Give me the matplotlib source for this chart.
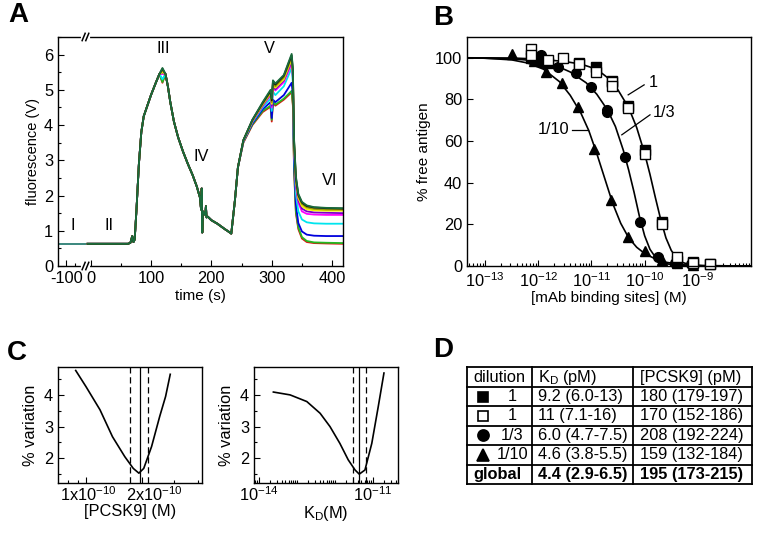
import numpy as np
import matplotlib
matplotlib.use("Agg")
import matplotlib.pyplot as plt
from matplotlib import ticker
import matplotlib.transforms as mtransforms

plt.rcParams["font.family"] = ["Liberation Sans", "DejaVu Sans"]
plt.rcParams["mathtext.fontset"] = "custom"
plt.rcParams["mathtext.rm"] = "Liberation Sans"
plt.rcParams["mathtext.it"] = "Liberation Sans:italic"
plt.rcParams["mathtext.default"] = "regular"
plt.rcParams["xtick.direction"] = "in"
plt.rcParams["ytick.direction"] = "in"
plt.rcParams["axes.linewidth"] = 1.0

FS = 11.8

# ---------------- panel A data (time axis is broken before 0) ----------------
pre_x = [-54, -9]
pre_y = [0.63, 0.63]

early_t = [-5, 62, 66, 69, 71, 73, 76, 80, 84, 88, 93, 100, 108, 114, 119, 124, 128, 132, 138, 145,
           153, 161, 169, 176, 181, 183, 184, 185, 186, 188, 190, 191, 192, 194, 200, 210, 222, 229]
early_v = [0.63, 0.63, 0.66, 0.85, 0.68, 0.75, 1.6, 2.9, 3.8, 4.25, 4.5, 4.85, 5.2, 5.45, 5.6, 5.45, 5.1, 4.65, 4.1, 3.65,
           3.25, 2.9, 2.58, 2.25, 1.95, 1.6, 2.2, 0.95, 1.55, 1.5, 1.45, 1.7, 1.38, 1.4, 1.3, 1.2, 1.05, 0.97]

late_t = [233, 239, 244, 253, 268, 285, 298, 300, 302, 306, 320, 333, 335, 337, 340, 344, 350, 358, 370, 390, 418]

trace_colors = ["#dd1111", "#22bb22", "#0000dd", "#00e5ee", "#ff00ff", "#7a00c8",
                "#f2f200", "#9a9a00", "#111111", "#1a6b3c"]
peak_iii = [5.2, 5.22, 5.5, 5.3, 5.45, 5.48, 5.5, 5.55, 5.6, 5.62]
late_v = [
    [0.92, 1.86, 2.8, 3.50, 4.00, 4.37, 4.52, 4.10, 4.65, 4.55, 4.72, 4.93, 4.55, 2.70, 1.50, 1.05, 0.78, 0.68, 0.65, 0.64, 0.63],
    [0.92, 1.86, 2.8, 3.52, 4.02, 4.40, 4.55, 4.15, 4.70, 4.58, 4.75, 4.97, 4.60, 2.75, 1.55, 1.10, 0.82, 0.71, 0.67, 0.66, 0.65],
    [0.92, 1.86, 2.8, 3.53, 4.05, 4.45, 4.65, 4.20, 4.72, 4.65, 4.85, 5.20, 4.85, 2.95, 1.75, 1.22, 0.98, 0.89, 0.86, 0.85, 0.85],
    [0.92, 1.86, 2.8, 3.54, 4.08, 4.50, 4.75, 4.40, 4.95, 4.85, 5.10, 5.62, 5.20, 3.20, 2.05, 1.55, 1.32, 1.24, 1.21, 1.20, 1.20],
    [0.92, 1.86, 2.8, 3.55, 4.10, 4.54, 4.85, 4.50, 5.08, 4.98, 5.22, 5.75, 5.35, 3.35, 2.25, 1.80, 1.55, 1.48, 1.46, 1.45, 1.45],
    [0.92, 1.86, 2.8, 3.56, 4.11, 4.56, 4.88, 4.55, 5.12, 5.02, 5.27, 5.82, 5.40, 3.40, 2.33, 1.87, 1.63, 1.55, 1.52, 1.51, 1.50],
    [0.92, 1.86, 2.8, 3.56, 4.12, 4.58, 4.90, 4.60, 5.15, 5.06, 5.30, 5.87, 5.45, 3.45, 2.40, 1.93, 1.70, 1.61, 1.58, 1.57, 1.57],
    [0.92, 1.86, 2.8, 3.57, 4.13, 4.60, 4.93, 4.65, 5.20, 5.10, 5.35, 5.92, 5.50, 3.50, 2.45, 1.98, 1.76, 1.66, 1.62, 1.60, 1.60],
    [0.92, 1.86, 2.8, 3.57, 4.15, 4.63, 4.97, 4.70, 5.24, 5.15, 5.40, 5.98, 5.55, 3.55, 2.50, 2.02, 1.80, 1.70, 1.66, 1.64, 1.63],
    [0.92, 1.86, 2.8, 3.57, 4.15, 4.65, 5.00, 4.75, 5.27, 5.18, 5.42, 6.02, 5.60, 3.60, 2.55, 2.05, 1.82, 1.72, 1.67, 1.65, 1.64],
]
phase_labels = ["I", "II", "III", "IV", "V", "VI"]
phase_x = [-29, 30, 120, 183, 296, 396]
phase_y = [0.95, 0.95, 5.95, 2.9, 5.95, 2.2]
a_tick_pos = [-40, 0, 100, 200, 300, 400]
a_tick_lab = ["-100", "0", "100", "200", "300", "400"]

# ---------------- panel B data (log10 of mAb binding sites, % free antigen) ----------------
sqf_x = [-12.14, -11.81, -11.23, -10.92, -10.62, -10.31, -10.0, -9.68, -9.40, -9.09, -8.77]
sqf_y = [100, 97.5, 97.5, 95.5, 89, 77, 55.5, 21, 2.5, 1.8, 1.0]
sqo_x = [-12.14, -12.14, -11.81, -11.54, -11.23, -10.92, -10.62, -10.62, -10.31, -10.0, -9.68, -9.40, -9.09, -8.77]
sqo_y = [104, 101.5, 99, 100, 97, 93, 88.6, 86.5, 76, 54, 20, 4.5, 1.5, 0.8]
circ_x = [-11.94, -11.94, -11.62, -11.29, -11.0, -10.70, -10.70, -10.37, -10.09, -9.75, -9.43, -9.12]
circ_y = [101.4, 98.2, 95.8, 92.6, 86.2, 75, 74, 52.2, 21.3, 4.5, 1.5, 0.8]
tri_x = [-12.5, -12.08, -11.86, -11.56, -11.25, -10.95, -10.64, -10.32, -10.0, -9.68, -9.4, -9.1]
tri_y = [102, 98.7, 93.4, 88.1, 76.3, 56.2, 31.7, 13.8, 7.0, 3.0, 1.5, 0.5]

fit1_x = [-13.34, -12.5, -12.0, -11.5, -11.2, -10.9, -10.7, -10.5, -10.3, -10.15, -10.0, -9.9, -9.8,
          -9.7, -9.6, -9.5, -9.4, -9.3, -9.15, -8.9, -8.0]
fit1_y = [100, 99.9, 99.4, 98.2, 97, 94.5, 90.5, 84.5, 76, 66.5, 54, 44, 33, 22.5, 13.5, 7.5, 3.8, 1.8, 0.6, 0.1, 0]
fit3_x = [-13.34, -12.5, -12.0, -11.7, -11.4, -11.1, -10.9, -10.7, -10.55, -10.4, -10.3, -10.2, -10.1,
          -10.0, -9.9, -9.8, -9.7, -9.55, -9.3, -8.0]
fit3_y = [100, 99.5, 98.5, 96.6, 93.2, 88, 82.5, 75, 67, 55.5, 46, 35.5, 24, 14.5, 8, 4.3, 2.3, 0.9, 0.2, 0]
fit10_x = [-13.34, -13.0, -12.5, -12.2, -11.9, -11.6, -11.4, -11.2, -11.05, -10.9, -10.75, -10.6, -10.45,
           -10.3, -10.15, -10.0, -9.8, -9.6, -9.3, -9.0, -8.0]
fit10_y = [100, 99.8, 99, 97.5, 94.5, 88.5, 82, 73.5, 65, 54, 42, 30, 20.5, 13.5, 9, 6, 3.4, 1.8, 0.6, 0.2, 0]

# ---------------- panel C data ----------------
pcsk_x = [0.88, 1.0, 1.19, 1.39, 1.62, 1.80, 1.93, 2.05, 2.26, 2.5, 2.69, 2.85]   # x 1e-10 M
pcsk_y = [4.77, 4.26, 3.53, 2.68, 2.05, 1.68, 1.53, 1.68, 2.37, 3.32, 3.95, 4.65]
kd_x = [-13.62, -13.18, -12.74, -12.39, -12.13, -11.87, -11.65, -11.47, -11.36, -11.21, -11.03, -10.86, -10.71]
kd_y = [4.09, 4.0, 3.79, 3.42, 3.0, 2.47, 1.95, 1.63, 1.5, 1.63, 2.47, 3.63, 4.69]

# ---------------- panel D table ----------------
dilutions = ["1", "1", "1/3", "1/10"]
kd_cells = ["9.2 (6.0-13)", "11 (7.1-16)", "6.0 (4.7-7.5)", "4.6 (3.8-5.5)"]
pcsk_cells = ["180 (179-197)", "170 (152-186)", "208 (192-224)", "159 (132-184)"]
global_kd = [4.4, 2.9, 6.5]        # pM
global_pcsk = [195, 173, 215]      # pM

fig = plt.figure(figsize=(7.6, 5.39), dpi=100)


def style(ax):
    ax.tick_params(which="both", top=False, right=False, labelsize=FS, width=0.8)
    ax.tick_params(which="major", length=4)
    ax.tick_params(which="minor", length=2)


# ---- A ----
axA = fig.add_axes([0.0763, 0.5065, 0.375, 0.4249])
for col, pk, lv in zip(trace_colors, peak_iii, late_v):
    ev = list(early_v)
    ev[early_t.index(119)] = pk
    axA.plot(pre_x, pre_y, color="#3f8a80", lw=1.4)
    axA.plot(early_t + late_t, ev + lv, color=col, lw=1.3)
axA.set_xlim(-54, 418)
axA.set_ylim(0, 6.5)
axA.xaxis.set_major_locator(ticker.FixedLocator(a_tick_pos))
axA.xaxis.set_major_formatter(ticker.FixedFormatter(a_tick_lab))
axA.xaxis.set_minor_locator(ticker.FixedLocator([-26, 50, 150, 250, 350]))
axA.yaxis.set_major_locator(ticker.MultipleLocator(1))
axA.yaxis.set_minor_locator(ticker.MultipleLocator(0.5))
style(axA)
axA.set_xlabel("time (s)", fontsize=11, labelpad=2)
axA.set_ylabel("fluorescence (V)", fontsize=10.5, labelpad=3)
for lab, x, y in zip(phase_labels, phase_x, phase_y):
    axA.text(x, y, lab, fontsize=FS, ha="center", va="bottom")
tr = mtransforms.blended_transform_factory(axA.transData, axA.transAxes)
brk = -8
for yb in (0, 1):
    axA.plot([brk - 4, brk + 3], [yb, yb], color="white", lw=3, transform=tr, clip_on=False, zorder=5)
    for dx in (-3.5, 2.5):
        axA.plot([brk + dx - 2.5, brk + dx + 2.5], [yb - 0.016, yb + 0.016], color="black", lw=1.1,
                 transform=tr, clip_on=False, zorder=6)

# ---- B ----
axB = fig.add_axes([0.6145, 0.5065, 0.3737, 0.4249])
for fx, fy in ((fit1_x, fit1_y), (fit3_x, fit3_y), (fit10_x, fit10_y)):
    axB.plot(10.0 ** np.array(fx), fy, color="black", lw=1.2)
axB.plot(10.0 ** np.array(tri_x), tri_y, "^", color="black", ms=7, clip_on=False)
axB.plot(10.0 ** np.array(circ_x), circ_y, "o", color="black", ms=7, clip_on=False)
axB.plot(10.0 ** np.array(sqf_x), sqf_y, "s", color="black", ms=6.5, clip_on=False)
axB.plot(10.0 ** np.array(sqo_x), sqo_y, "s", mfc="white", mec="black", mew=1.0, ms=6.5, clip_on=False)
axB.set_xscale("log")
axB.set_xlim(10 ** -13.34, 10 ** -8.0)
axB.set_ylim(0, 110)
axB.xaxis.set_major_locator(ticker.FixedLocator([1e-13, 1e-12, 1e-11, 1e-10, 1e-9]))
axB.xaxis.set_major_formatter(ticker.LogFormatterMathtext())
axB.xaxis.set_minor_locator(ticker.LogLocator(base=10, subs=np.arange(2, 10), numticks=30))
axB.xaxis.set_minor_formatter(ticker.NullFormatter())
axB.yaxis.set_major_locator(ticker.MultipleLocator(20))
style(axB)
axB.set_xlabel("[mAb binding sites] (M)", fontsize=11, labelpad=1)
axB.set_ylabel("% free antigen", fontsize=11, labelpad=3)
axB.plot([10 ** -10.31, 10 ** -10.01], [82.2, 87], color="black", lw=0.9)
axB.text(10 ** -9.93, 88, "1", fontsize=FS, va="center", ha="left")
axB.plot([10 ** -10.43, 10 ** -9.90], [63, 72.6], color="black", lw=0.9)
axB.text(10 ** -9.85, 73.5, "1/3", fontsize=FS, va="center", ha="left")
axB.plot([10 ** -11.37, 10 ** -11.07], [65.4, 65.4], color="black", lw=0.9)
axB.text(10 ** -11.42, 65.4, "1/10", fontsize=FS, va="center", ha="right")

# ---- C ----
axC1 = fig.add_axes([0.0763, 0.1039, 0.1895, 0.2152])
axC1.plot(np.array(pcsk_x) * 1e-10, pcsk_y, color="black", lw=1.2)
axC1.axvline(global_pcsk[0] * 1e-12, color="black", lw=0.9)
for v in global_pcsk[1:]:
    axC1.axvline(v * 1e-12, color="black", lw=0.9, ls=(0, (5, 3)))
axC1.set_xscale("log")
axC1.set_xlim(0.706e-10, 4.23e-10)
axC1.set_ylim(1.22, 4.88)
axC1.xaxis.set_major_locator(ticker.FixedLocator([1e-10, 2e-10]))
axC1.xaxis.set_major_formatter(ticker.FixedFormatter(["1x10$^{-10}$", "2x10$^{-10}$"]))
axC1.xaxis.set_minor_locator(ticker.FixedLocator([0.8e-10, 0.9e-10, 3e-10, 4e-10]))
axC1.xaxis.set_minor_formatter(ticker.NullFormatter())
axC1.yaxis.set_major_locator(ticker.MultipleLocator(1))
axC1.yaxis.set_minor_locator(ticker.MultipleLocator(0.5))
style(axC1)
axC1.tick_params(axis="x", pad=2)
axC1.set_xlabel("[PCSK9] (M)", fontsize=FS, labelpad=0)
axC1.set_ylabel("% variation", fontsize=FS, labelpad=4)
fig.canvas.draw()
for lbl, shift in zip(axC1.get_xticklabels(), (2, 13)):
    lbl.set_transform(lbl.get_transform() + mtransforms.ScaledTranslation(shift / 100, 0, fig.dpi_scale_trans))

axC2 = fig.add_axes([0.3342, 0.1039, 0.1895, 0.2152])
axC2.plot(10.0 ** np.array(kd_x), kd_y, color="black", lw=1.2)
axC2.axvline(global_kd[0] * 1e-12, color="black", lw=0.9)
for v in global_kd[1:]:
    axC2.axvline(v * 1e-12, color="black", lw=0.9, ls=(0, (5, 3)))
axC2.set_xscale("log")
axC2.set_xlim(10 ** -14.13, 10 ** -10.34)
axC2.set_ylim(1.22, 4.88)
axC2.xaxis.set_major_locator(ticker.FixedLocator([1e-14, 1e-11]))
axC2.xaxis.set_major_formatter(ticker.LogFormatterMathtext())
axC2.xaxis.set_minor_locator(ticker.LogLocator(base=10, subs=np.arange(1, 10), numticks=30))
axC2.xaxis.set_minor_formatter(ticker.NullFormatter())
axC2.yaxis.set_major_locator(ticker.MultipleLocator(1))
axC2.yaxis.set_minor_locator(ticker.MultipleLocator(0.5))
style(axC2)
axC2.tick_params(axis="x", pad=2)
axC2.set_xlabel("K$_D$(M)", fontsize=FS, labelpad=0)
axC2.set_ylabel("% variation", fontsize=FS, labelpad=4)

# ---- D table ----
axD = fig.add_axes([0.614, 0.102, 0.375, 0.2165])
axD.set_xlim(0, 1)
axD.set_ylim(6, 0)
axD.axis("off")
col_edges = [0, 0.228, 0.582, 1]
for xe in col_edges:
    axD.plot([xe, xe], [0, 6], color="black", lw=1.3, clip_on=False)
for r in range(7):
    axD.plot([0, 1], [r, r], color="black", lw=1.3, clip_on=False)
axD.text(0.022, 0.5, "dilution", fontsize=FS, va="center")
axD.text(0.25, 0.5, "K$_D$ (pM)", fontsize=FS, va="center")
axD.text(0.61, 0.5, "[PCSK9] (pM)", fontsize=FS, va="center")
row_marks = [dict(marker="s", mfc="black"), dict(marker="s", mfc="white"),
             dict(marker="o", mfc="black"), dict(marker="^", mfc="black")]
for i, (dil, kd, pc, mk) in enumerate(zip(dilutions, kd_cells, pcsk_cells, row_marks)):
    y = i + 1.5
    axD.plot([0.058], [y], color="black", mec="black", ms=8 if mk["marker"] != "s" else 7, mew=1.2, **mk)
    axD.text(0.16, y, dil, fontsize=FS, va="center", ha="center")
    axD.text(0.25, y, kd, fontsize=FS, va="center")
    axD.text(0.61, y, pc, fontsize=FS, va="center")
axD.text(0.022, 5.5, "global", fontsize=FS, va="center", fontweight="bold")
axD.text(0.25, 5.5, "%.1f (%.1f-%.1f)" % tuple(global_kd), fontsize=FS, va="center", fontweight="bold")
axD.text(0.61, 5.5, "%d (%d-%d)" % tuple(global_pcsk), fontsize=FS, va="center", fontweight="bold")

for lab, x, y in (("A", 0.024, 0.972), ("B", 0.583, 0.967), ("C", 0.022, 0.345), ("D", 0.583, 0.35)):
    fig.text(x, y, lab, fontsize=20, fontweight="bold", ha="center", va="center")

fig.savefig("out.png", dpi=100)
